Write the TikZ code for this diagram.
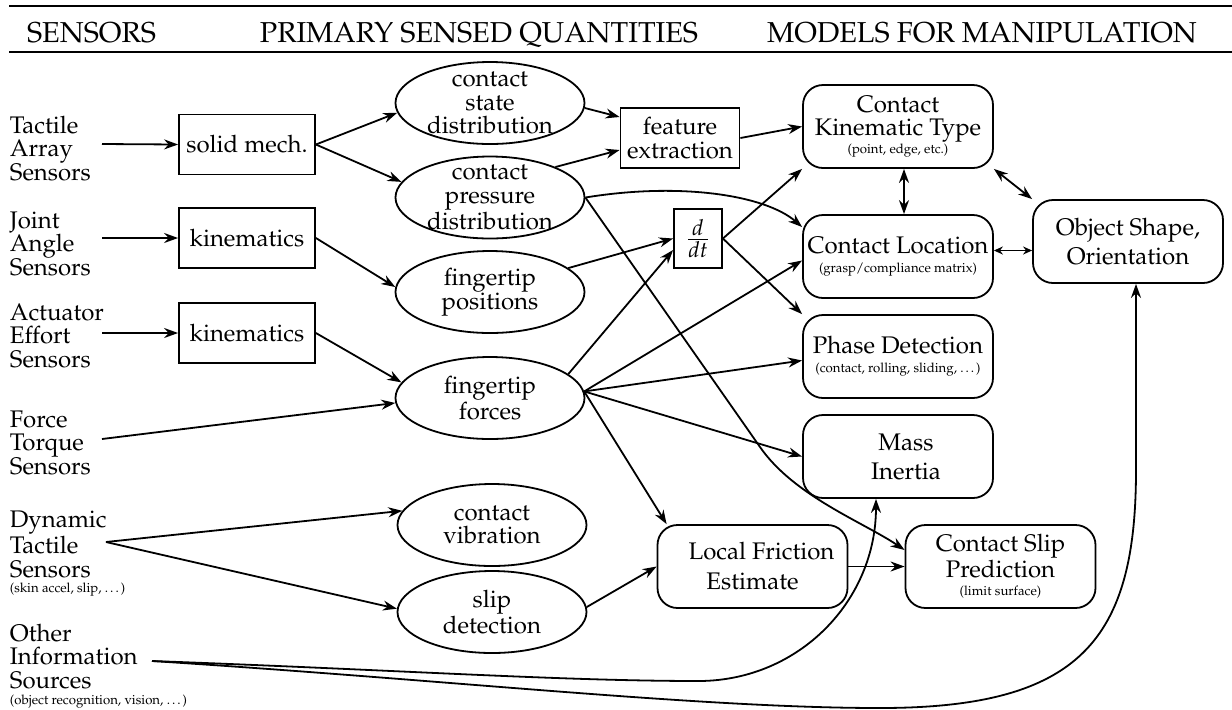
\documentclass[tikz,border=0pt]{standalone}
\usepackage[T1]{fontenc}
\usepackage{mathpazo}
\usetikzlibrary{shapes.geometric,arrows.meta}
\newcommand\dfont{\fontsize{12}{11.75}\selectfont}
\newcommand\dsmall{\fontsize{6.6}{7}\selectfont}
\newcommand\dhead{\fontsize{14.4}{17}\selectfont}
\tikzset{
  arr/.style={-{Stealth[length=7pt,width=5pt]}},
  dbl/.style={{Stealth[length=7pt,width=5pt]}-{Stealth[length=7pt,width=5pt]}},
  sdbl/.style={{Stealth[length=4.5pt,width=4pt]}-{Stealth[length=4.5pt,width=4pt]}},
  sbox/.style={draw, rectangle, minimum width=68pt, minimum height=30pt, inner sep=0pt, align=center, font=\dfont},
  oval/.style={draw, ellipse, minimum width=94.5pt, minimum height=41pt, inner sep=0pt},
  model/.style={draw, rectangle, rounded corners=10pt, minimum width=95pt, minimum height=41.5pt, inner sep=0pt, align=center, font=\dfont},
  txt/.style={align=center, font=\dfont, inner sep=0pt},
  side/.style={align=left, anchor=base west, font=\dfont, inner sep=0pt},
  note/.style={anchor=base west, font=\dsmall, inner sep=0pt},
  head/.style={anchor=base, font=\dhead, inner sep=0pt},
}
\begin{document}
\begin{tikzpicture}[x=0.5pt, y=-0.5pt, line width=0.9pt]
\useasboundingbox (0,0) rectangle (1232,709);
% header
\draw[line width=1pt] (9,6) -- (1232,6);
\draw[line width=0.7pt] (9,52) -- (1232,52);
\node[head] (h1) at (91.5,42) {SENSORS};
\node[head] (h2) at (479,42) {PRIMARY SENSED QUANTITIES};
\node[head] (h3) at (982,42) {MODELS FOR MANIPULATION};
% sensors (base = last line)
\node[side] (tac) at (9,180) {Tactile\\Array\\Sensors};
\node[side] (joi) at (9,275) {Joint\\Angle\\Sensors};
\node[side] (act) at (9,367) {Actuator\\Effort\\Sensors};
\node[side] (frc) at (9,474) {Force\\Torque\\Sensors};
\node[side] (dyn) at (9,577) {Dynamic\\Tactile\\Sensors};
\node[note] (dynn) at (9,592) {(skin accel, slip, \dots)};
\node[side] (oth) at (9,688) {Other\\Information\\Sources};
\node[note] (othn) at (9,704) {(object recognition, vision, \dots)};
\coordinate (tac-o) at (102,144);
\coordinate (joi-o) at (102,238);
\coordinate (act-o) at (102,333);
\coordinate (frc-o) at (102,439);
\coordinate (dyn-o) at (106,542);
\coordinate (oth-o) at (152,661);
% boxes
\node[sbox] (solid) at (247,144.5) {solid mech.};
\node[sbox] (kin1) at (247,238) {kinematics};
\node[sbox] (kin2) at (247,333) {kinematics};
\node[sbox, minimum width=59.5pt] (feat) at (680,138) {feature\\extraction};
\node[sbox, minimum width=24pt, minimum height=29.5pt, font=\fontsize{14.5}{16}\selectfont] (ddt) at (698,238.5) {$\frac{d}{dt}$};
% ellipses
\node[oval] (state) at (490,103) {};
\node[txt] (state-t) at (state) {contact\\state\\distribution};
\node[oval] (pressure) at (490,197.5) {};
\node[txt] (pressure-t) at (pressure) {contact\\pressure\\distribution};
\node[oval] (positions) at (490,292) {};
\node[txt] (positions-t) at (positions) {fingertip\\positions};
\node[oval] (forces) at (490,398) {};
\node[txt] (forces-t) at (forces) {fingertip\\forces};
\node[oval] (vib) at (492,525) {};
\node[txt] (vib-t) at (vib) {contact\\vibration};
\node[oval] (slipdet) at (492,612) {};
\node[txt] (slipdet-t) at (slipdet) {slip\\detection};
% models
\node[model] (ckt) at (898,126.5) {Contact\\Kinematic Type\\[-2.75pt]{\dsmall (point, edge, etc.)}};
\node[model] (cloc) at (898,256.5) {Contact Location\\[-2.25pt]{\dsmall (grasp/compliance matrix)}};
\node[model] (phase) at (898,356.5) {Phase Detection\\[-2.25pt]{\dsmall (contact, rolling, sliding, \dots)}};
\node[model] (mass) at (898,456.5) {\hspace*{8pt}Mass\\[2.75pt]\hspace*{8pt}Inertia};
\node[model] (fric) at (752.5,566.5) {\hspace*{9pt}Local Friction\\[3.25pt]Estimate};
\node[model] (slipp) at (1000.5,566.5) {Contact Slip\\Prediction\\[-2.75pt]{\dsmall (limit surface)}};
\node[model] (shape) at (1128,241.5) {Object Shape,\\[2.75pt]Orientation};
% connectors
\draw[arr] (tac-o) -- (solid.west);
\draw[arr] (joi-o) -- (kin1.west);
\draw[arr] (act-o) -- (kin2.west);
\draw[arr] (frc-o) -- (forces.183);
\draw[arr] (solid.east) -- (state.186);
\draw[arr] (solid.east) -- (pressure.170);
\draw[arr] (kin1.east) -- (positions.177);
\draw[arr] (kin2.east) -- (forces.170);
\draw[arr] (state.357) -- ([yshift=10.5pt]feat.west);
\draw[arr] (pressure.25) -- ([yshift=-6pt]feat.west);
\draw[arr] (feat.east) -- (ckt.west);
\draw[arr] (pressure.east) .. controls (680,182) and (765,195) .. ([yshift=14.75pt]cloc.west);
\draw[arr] (pressure.east) -- (760,447) .. controls (794,496) and (863,522) .. ([yshift=8.25pt]slipp.west);
\draw[arr] (positions.17) -- (ddt.west);
\draw[arr] (forces.17) -- ([yshift=-5.75pt]ddt.west);
\draw[arr] (ddt.east) -- (ckt.south west);
\draw[arr] (ddt.east) -- (phase.north west);
\draw[arr] (forces.4) -- ([yshift=-2pt]cloc.west);
\draw[arr] (forces.4) -- ([yshift=-2pt]phase.west);
\draw[arr] (forces.4) -- (mass.west);
\draw[arr] (forces.4) -- ([xshift=5pt]fric.north west);
\draw[arr] (slipdet.3) -- (fric.west);
\draw[arr] (fric.east) -- (slipp.west);
\draw[arr] (dyn-o) -- (vib.171);
\draw[arr] (dyn-o) -- (slipdet.178);
\draw[arr] (oth-o) .. controls (400,670) and (560,681) .. (700,681) .. controls (800,680) and (876,600) .. ([xshift=-11pt]mass.south);
\draw[arr] (oth-o) .. controls (450,680) and (700,708) .. (880,708) .. controls (1080,708) and (1136,640) .. (1136,470) -- ([xshift=4pt]shape.south);
\draw[dbl] ([xshift=3pt]ckt.south) -- ([xshift=3pt]cloc.north);
\draw[dbl] (ckt.south east) -- (shape.north west);
\draw[sdbl] ([yshift=3pt]cloc.east) -- ([yshift=-4.5pt]shape.west);
\end{tikzpicture}
\end{document}
